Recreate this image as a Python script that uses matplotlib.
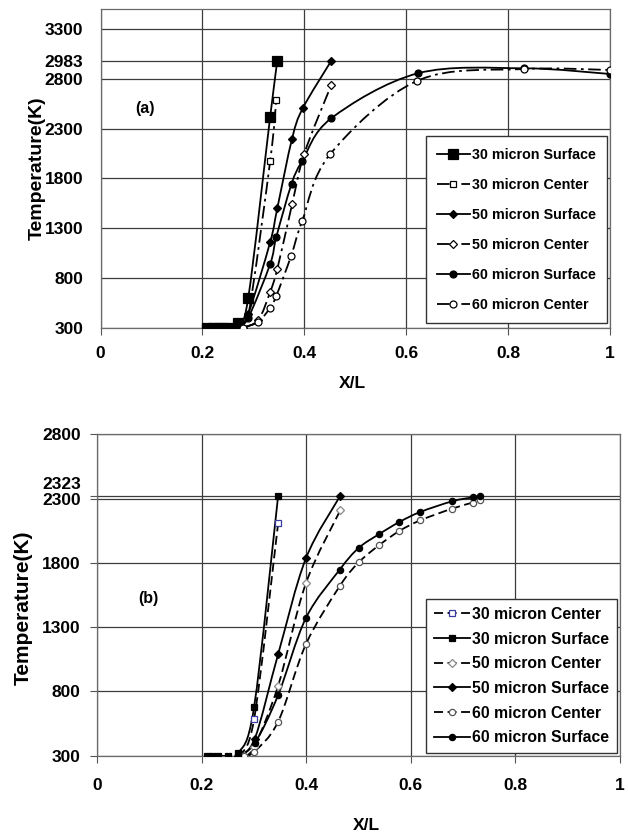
import numpy as np
import matplotlib
matplotlib.use("Agg")
import matplotlib.pyplot as plt
from matplotlib.path import Path
from matplotlib.patches import PathPatch
from matplotlib.lines import Line2D
from matplotlib.transforms import ScaledTranslation

plt.rcParams['font.family'] = ['Liberation Sans', 'DejaVu Sans']
plt.rcParams['font.weight'] = 'bold'

# ---- (a) ----
a_x_30s = [0.21, 0.22, 0.23, 0.24, 0.25, 0.27, 0.29, 0.333, 0.347]
a_t_30s = [300, 300, 300, 300, 300, 350, 600, 2420, 2983]
a_x_30c = [0.27, 0.29, 0.333, 0.345]
a_t_30c = [300, 420, 1975, 2590]
a_x_50s = [0.27, 0.29, 0.333, 0.347, 0.376, 0.397, 0.453]
a_t_50s = [300, 440, 1160, 1500, 2200, 2505, 2983]
a_x_50c = [0.28, 0.31, 0.333, 0.347, 0.376, 0.40, 0.453]
a_t_50c = [300, 380, 660, 890, 1540, 2050, 2740]
a_x_60s = [0.27, 0.29, 0.333, 0.345, 0.375, 0.396, 0.453, 0.623, 0.831, 1.0]
a_t_60s = [300, 400, 940, 1210, 1745, 1975, 2405, 2857, 2907, 2850]
a_x_60c = [0.28, 0.31, 0.332, 0.345, 0.374, 0.396, 0.451, 0.622, 0.831, 1.0]
a_t_60c = [300, 360, 495, 620, 1020, 1375, 2045, 2782, 2900, 2890]
a_yticks = [300, 800, 1300, 1800, 2300, 2800, 2983, 3300]

# ---- (b) ----
b_x_30c = [0.27, 0.30, 0.346]
b_t_30c = [300, 585, 2110]
b_x_30s = [0.21, 0.22, 0.23, 0.25, 0.27, 0.30, 0.346]
b_t_30s = [300, 300, 300, 300, 320, 680, 2323]
b_x_50c = [0.28, 0.30, 0.346, 0.399, 0.465]
b_t_50c = [300, 370, 845, 1640, 2210]
b_x_50s = [0.27, 0.301, 0.346, 0.399, 0.465]
b_t_50s = [300, 430, 1090, 1834, 2323]
b_x_60c = [0.28, 0.30, 0.346, 0.399, 0.464, 0.50, 0.539, 0.578, 0.618, 0.679, 0.718, 0.732]
b_t_60c = [300, 330, 565, 1166, 1620, 1803, 1937, 2048, 2131, 2222, 2269, 2292]
b_x_60s = [0.27, 0.301, 0.346, 0.399, 0.464, 0.50, 0.539, 0.578, 0.618, 0.679, 0.718, 0.732]
b_t_60s = [300, 396, 772, 1370, 1748, 1916, 2023, 2118, 2196, 2279, 2310, 2323]
b_yticks = [300, 800, 1300, 1800, 2300, 2323, 2800]

xticks = [0, 0.2, 0.4, 0.6, 0.8, 1]
xticklabels = ['0', '0.2', '0.4', '0.6', '0.8', '1']

DASHDOT = (0, (7, 2.5, 1.5, 2.5))
DASHED = (0, (5, 2.5))


def smooth_line(ax, x, y, ls, lw=1.3):
    # smoothed curve like a spreadsheet "smooth line" (cubic bezier through the points)
    p = np.column_stack([x, y]).astype(float)
    n = len(p)
    verts = [p[0]]
    codes = [Path.MOVETO]
    for i in range(n - 1):
        p0 = p[i - 1] if i > 0 else p[i]
        p3 = p[i + 2] if i + 2 < n else p[i + 1]
        c1 = p[i] + (p[i + 1] - p0) / 6.0
        c2 = p[i + 1] - (p3 - p[i]) / 6.0
        verts += [c1, c2, p[i + 1]]
        codes += [Path.CURVE4] * 3
    patch = PathPatch(Path(verts, codes), fill=False, edgecolor='black',
                      linewidth=lw, linestyle=ls, zorder=3)
    ax.add_patch(patch)


def series(ax, x, y, ls, marker, ms, mfc, mec='black'):
    smooth_line(ax, x, y, ls)
    ax.plot(x, y, linestyle='none', marker=marker, markersize=ms,
            markerfacecolor=mfc, markeredgecolor=mec, markeredgewidth=0.9, zorder=4)
    return Line2D([], [], color='black', linewidth=1.3, linestyle=ls, marker=marker,
                  markersize=ms, markerfacecolor=mfc, markeredgecolor=mec,
                  markeredgewidth=0.9)


def style_axes(ax, yticks, ylim, ypad, ylen, xpad):
    ax.set_xlim(0, 1)
    ax.set_ylim(*ylim)
    ax.set_xticks(xticks)
    ax.set_xticklabels(xticklabels)
    ax.set_yticks(yticks)
    ax.set_yticklabels([str(t) for t in yticks])
    ax.grid(True, color='#3c3c3c', linewidth=0.9)
    ax.set_axisbelow(True)
    for s in ax.spines.values():
        s.set_color('#6a6a6a')
        s.set_linewidth(0.9)
    ax.tick_params(axis='y', length=ylen, width=0.8, color='#555555', pad=ypad, labelsize=12.5)
    ax.tick_params(axis='x', length=5, width=0.8, color='#555555', pad=xpad, labelsize=12.5)


fig = plt.figure(figsize=(6.28, 8.35), dpi=100)
W, H = 628, 835

# top panel
ax1 = fig.add_axes([100.5 / W, 1 - 327.7 / H, 509.5 / W, 318.4 / H])
h = []
h.append(series(ax1, a_x_30s, a_t_30s, '-', 's', 7, 'black'))
h.append(series(ax1, a_x_30c, a_t_30c, DASHDOT, 's', 5, 'white'))
h.append(series(ax1, a_x_50s, a_t_50s, '-', 'D', 4.2, 'black'))
h.append(series(ax1, a_x_50c, a_t_50c, DASHDOT, 'D', 4.5, 'white'))
h.append(series(ax1, a_x_60s, a_t_60s, '-', 'o', 5, 'black'))
h.append(series(ax1, a_x_60c, a_t_60c, DASHDOT, 'o', 5, 'white'))
style_axes(ax1, a_yticks, (300, 3500), 12.5, 0, 8)
labels_a = ['30 micron Surface', '30 micron Center', '50 micron Surface',
            '50 micron Center', '60 micron Surface', '60 micron Center']
leg1 = ax1.legend(h, labels_a, loc='lower right', bbox_to_anchor=(0.995, 0.014),
                  fontsize=10.3, frameon=True, fancybox=False, framealpha=1,
                  edgecolor='#333333', handlelength=2.3, labelspacing=1.12,
                  borderpad=0.8, handletextpad=0.15, borderaxespad=0)
leg1.get_frame().set_linewidth(1.0)
ax1.text(0.088, 0.69, '(a)', transform=ax1.transAxes, fontsize=11.5,
         ha='center', va='center')

# bottom panel
ax2 = fig.add_axes([97.3 / W, 1 - 755.7 / H, 522.7 / W, 321.4 / H])
g = []
g.append(series(ax2, b_x_30c, b_t_30c, DASHED, 's', 5, 'white', '#3a3aa0'))
g.append(series(ax2, b_x_30s, b_t_30s, '-', 's', 5, 'black'))
g.append(series(ax2, b_x_50c, b_t_50c, DASHED, 'D', 4, 'white', '#888888'))
g.append(series(ax2, b_x_50s, b_t_50s, '-', 'D', 4, 'black'))
g.append(series(ax2, b_x_60c, b_t_60c, DASHED, 'o', 4.5, 'white', '#555555'))
g.append(series(ax2, b_x_60s, b_t_60s, '-', 'o', 4.5, 'black'))
style_axes(ax2, b_yticks, (300, 2800), 7, 5, 11)
# lift the 2323 label clear of 2300
for lbl in ax2.get_yticklabels():
    if lbl.get_text() == '2323':
        lbl.set_transform(lbl.get_transform() +
                          ScaledTranslation(0, 13 / 100, fig.dpi_scale_trans))
labels_b = ['30 micron Center', '30 micron Surface', '50 micron Center',
            '50 micron Surface', '60 micron Center', '60 micron Surface']
leg2 = ax2.legend(g, labels_b, loc='lower right', bbox_to_anchor=(0.994, 0.0075),
                  fontsize=11.3, frameon=True, fancybox=False, framealpha=1,
                  edgecolor='#333333', handlelength=2.3, labelspacing=0.62,
                  borderpad=0.5, handletextpad=0.15, borderaxespad=0)
leg2.get_frame().set_linewidth(1.0)
ax2.text(0.098, 0.49, '(b)', transform=ax2.transAxes, fontsize=11.5,
         ha='center', va='center')

# axis titles
fig.text(37 / W, 1 - 168 / H, 'Temperature(K)', rotation=90, fontsize=14,
         ha='center', va='center')
fig.text(352 / W, 1 - 384 / H, 'X/L', fontsize=12.5, ha='center', va='center')
fig.text(23 / W, 1 - 608 / H, 'Temperature(K)', rotation=90, fontsize=15,
         ha='center', va='center')
fig.text(366 / W, 1 - 825 / H, 'X/L', fontsize=12.5, ha='center', va='center')

fig.savefig('out.png', dpi=100)
